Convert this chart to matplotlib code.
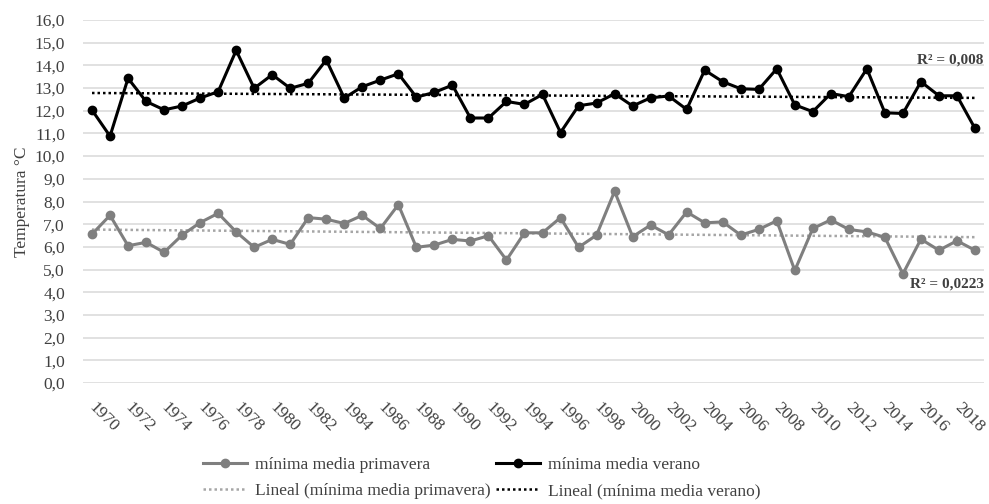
import numpy as np
import matplotlib
matplotlib.use("Agg")
import matplotlib.pyplot as plt
from matplotlib.transforms import ScaledTranslation

plt.rcParams['font.family'] = ['Liberation Serif', 'DejaVu Serif']

years = list(range(1970, 2020))

primavera = [6.56, 7.39, 6.05, 6.20, 5.76, 6.52, 7.07, 7.48, 6.66, 5.98,
             6.33, 6.11, 7.29, 7.22, 7.03, 7.39, 6.81, 7.86, 5.98, 6.08,
             6.33, 6.26, 6.49, 5.42, 6.62, 6.62, 7.29, 5.98, 6.52, 8.45,
             6.45, 6.96, 6.53, 7.54, 7.06, 7.10, 6.52, 6.77, 7.15, 4.96,
             6.81, 7.19, 6.77, 6.66, 6.42, 4.81, 6.34, 5.85, 6.27, 5.85]

verano = [12.03, 10.88, 13.43, 12.41, 12.04, 12.21, 12.56, 12.84, 14.66, 12.99,
          13.59, 12.99, 13.21, 14.24, 12.56, 13.06, 13.35, 13.63, 12.60, 12.81,
          13.13, 11.68, 11.68, 12.41, 12.28, 12.72, 11.04, 12.22, 12.34, 12.75,
          12.21, 12.57, 12.65, 12.06, 13.79, 13.28, 12.97, 12.94, 13.85, 12.26,
          11.96, 12.76, 12.62, 13.85, 11.91, 11.88, 13.28, 12.66, 12.66, 11.22]

tick_years = list(range(1970, 2019, 2))
y_ticks = np.arange(0, 16.01, 1.0)

r2_prim = "R² = 0,0223"
r2_ver = "R² = 0,008"

C_PRIM = "#7f7f7f"
C_PRIM_TREND = "#a6a6a6"
C_VER = "#000000"
C_GRID = "#d9d9d9"
C_TEXT = "#404040"

x = np.array(years, dtype=float)
fit_p = np.polyval(np.polyfit(x, primavera, 1), x)
fit_v = np.polyval(np.polyfit(x, verano, 1), x)

fig = plt.figure(figsize=(9.89, 5.04), dpi=100)
ax = fig.add_axes([83 / 989, 1 - 383 / 504, (984 - 83) / 989, (383 - 20) / 504])

ax.set_xlim(1969.5, 2019.5)
ax.set_ylim(0, 16)
ax.set_yticks(y_ticks)
ax.set_yticklabels([f"{v:.1f}".replace(".", ",") for v in y_ticks])
ax.yaxis.grid(True, color=C_GRID, linewidth=1.1)
ax.set_axisbelow(True)
for s in ax.spines.values():
    s.set_visible(False)
ax.tick_params(axis='both', length=0, labelsize=12.5, colors=C_TEXT)
ax.tick_params(axis='y', pad=13)

ax.set_xticks(tick_years)
ax.set_xticklabels([str(y) for y in tick_years], rotation=-45,
                   ha='left', va='top', rotation_mode='default')
off = ScaledTranslation(-6 / 100, -12 / 100, fig.dpi_scale_trans)
for lbl in ax.get_xticklabels():
    lbl.set_transform(lbl.get_transform() + off)

ax.set_ylabel("Temperatura °C", fontsize=12.5, color=C_TEXT, labelpad=3)

l1, = ax.plot(x, primavera, color=C_PRIM, linewidth=2.2, marker='o',
              markersize=6, label="mínima media primavera", zorder=3)
l2, = ax.plot(x, verano, color=C_VER, linewidth=2.2, marker='o',
              markersize=6, label="mínima media verano", zorder=4)
t1, = ax.plot(x, fit_p, color=C_PRIM_TREND, linewidth=1.8,
              linestyle=(0, (1, 1.2)), label="Lineal (mínima media primavera)", zorder=2)
t2, = ax.plot(x, fit_v, color=C_VER, linewidth=1.8,
              linestyle=(0, (1, 1.2)), label="Lineal (mínima media verano)", zorder=2)

ax.text(0.9995, 14.25, r2_ver, transform=ax.get_yaxis_transform(),
        ha='right', va='center', fontsize=11, fontweight='bold', color=C_TEXT)
ax.text(0.9995, 4.35, r2_prim, transform=ax.get_yaxis_transform(),
        ha='right', va='center', fontsize=11, fontweight='bold', color=C_TEXT)

fig.legend(handles=[l1, t1, l2, t2], ncol=2, loc='center',
           bbox_to_anchor=(482 / 989, 1 - 478 / 504), frameon=False,
           fontsize=12.5, handlelength=2.5, handletextpad=0.5,
           columnspacing=0.3, labelspacing=0.55, borderpad=0,
           labelcolor=C_TEXT)

fig.savefig("out.png", dpi=100)
